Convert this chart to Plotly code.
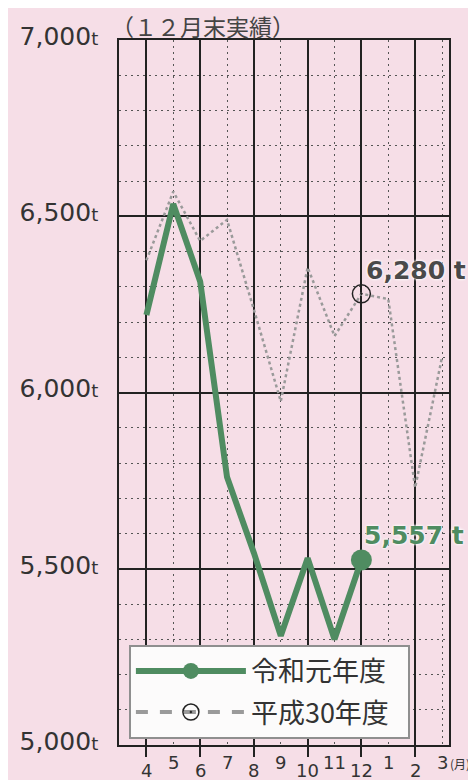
import plotly.graph_objects as go

# ---- data ----
months = ['4', '5', '6', '7', '8', '9', '10', '11', '12', '1', '2', '3']
reiwa1 = [6220, 6535, 6315, 5760, 5545, 5310, 5530, 5300, 5525]          # 令和元年度 (to Dec)
heisei30 = [6375, 6570, 6430, 6490, 6235, 5975, 6355, 6160, 6280, 6265, 5730, 6100]  # 平成30年度
y_ticks = [5000, 5500, 6000, 6500, 7000]
label_reiwa = '令和元年度'
label_heisei = '平成30年度'
title_text = '（１２月末実績）'
note_heisei = '6,280 t'
note_reiwa = '5,557 t'

GREEN = '#4f8c61'
GRAY = '#9a9a9a'
PINK = '#f6dee7'
NUM_FONT = 'DejaVu Sans, Liberation Sans, sans-serif'
JP_FONT = 'Noto Sans CJK JP, sans-serif'

x_idx = list(range(len(months)))
last = len(reiwa1) - 1

fig = go.Figure()

# 平成30年度 line
fig.add_trace(go.Scatter(
    x=x_idx, y=heisei30, mode='lines', showlegend=False,
    line=dict(color=GRAY, width=2.5, dash='dot'), hoverinfo='skip'))
# 平成30年度 marker at Dec
fig.add_trace(go.Scatter(
    x=[x_idx[last]], y=[heisei30[last]], mode='markers', showlegend=False,
    marker=dict(symbol='circle-open-dot', size=18, color='#222',
                line=dict(width=1.5, color='#222'))))
# 令和元年度 line
fig.add_trace(go.Scatter(
    x=x_idx[:len(reiwa1)], y=reiwa1, mode='lines', showlegend=False,
    line=dict(color=GREEN, width=6)))
# 令和元年度 marker at Dec
fig.add_trace(go.Scatter(
    x=[x_idx[last]], y=[reiwa1[last]], mode='markers', showlegend=False,
    marker=dict(symbol='circle', size=21, color=GREEN)))

# legend entries
fig.add_trace(go.Scatter(
    x=[None], y=[None], mode='lines+markers', name=label_reiwa + '\u2002', legendgroup='a',
    line=dict(color=GREEN, width=6), marker=dict(symbol='circle', size=18, color=GREEN)))
fig.add_trace(go.Scatter(
    x=[None], y=[None], mode='lines+markers', name=label_heisei + '\u2002', legendgroup='b',
    line=dict(color=GRAY, width=4, dash='dash'),
    marker=dict(symbol='circle-open-dot', size=16, color='#222', line=dict(width=1.5, color='#222'))))

annotations = []
# title
annotations.append(dict(
    text=title_text, xref='paper', yref='paper', x=0, y=1, xanchor='left', yanchor='bottom',
    xshift=-10, yshift=-5, showarrow=False, font=dict(family=JP_FONT, size=23, color='#444')))
# x labels, staggered
for i, m in enumerate(months):
    annotations.append(dict(
        text=m, x=i, y=0, xref='x', yref='paper', xanchor='center', yanchor='top',
        yshift=(-5 if i % 2 else -13), showarrow=False,
        font=dict(family=NUM_FONT, size=18, color='#333')))
annotations.append(dict(
    text='(月)', x=x_idx[-1], y=0, xref='x', yref='paper', xanchor='left', yanchor='top',
    xshift=6, yshift=-8, showarrow=False, font=dict(family=JP_FONT, size=12, color='#333')))
# value notes
annotations.append(dict(
    text=f'<b>{note_heisei}</b>', x=x_idx[last], y=heisei30[last], xref='x', yref='y',
    xanchor='left', yanchor='middle', xshift=3, yshift=23, showarrow=False,
    font=dict(family=NUM_FONT, size=25, color='#4a4a4a',
              shadow='0px 0px 3px #fff, 0px 0px 3px #fff')))
annotations.append(dict(
    text=f'<b>{note_reiwa}</b>', x=x_idx[last], y=reiwa1[last], xref='x', yref='y',
    xanchor='left', yanchor='middle', xshift=1, yshift=24, showarrow=False,
    font=dict(family=NUM_FONT, size=25, color=GREEN,
              shadow='0px 0px 3px #fff, 0px 0px 3px #fff')))

fig.update_layout(
    width=468, height=772,
    margin=dict(l=105, r=27, t=32, b=35),
    paper_bgcolor=PINK,
    plot_bgcolor=PINK,
    annotations=annotations,
    showlegend=True,
    legend=dict(x=0.03, y=0.142, xanchor='left', yanchor='top',
                bgcolor='#fcfbfb', bordercolor='#8f8f8f', borderwidth=2,
                font=dict(family=JP_FONT, size=27, color='#333'),
                itemwidth=110, tracegroupgap=3),
    xaxis=dict(range=[-1.02, 11.26], tickmode='array', tickvals=x_idx[0::2],
               showticklabels=False, ticks='outside', ticklen=10, tickcolor='#222', tickwidth=1.5,
               showgrid=True, gridcolor='#222', gridwidth=1.5,
               showline=True, mirror=True, linecolor='#222', linewidth=1.5, zeroline=False,
               minor=dict(tickmode='array', tickvals=x_idx[1::2], showgrid=True,
                          gridcolor='#555', gridwidth=1, griddash='2px,4px', ticks='')),
    yaxis=dict(range=[5000, 7000], tickmode='array', tickvals=y_ticks,
               ticktext=[f"{v:,}<span style='font-size:18px'>t</span>" for v in y_ticks],
               tickfont=dict(family=NUM_FONT, size=25, color='#333'),
               ticklabelstandoff=14, ticklabelshift=-4, ticks='',
               showgrid=True, gridcolor='#222', gridwidth=1.5,
               showline=True, mirror=True, linecolor='#222', linewidth=1.5, zeroline=False,
               minor=dict(dtick=100, showgrid=True, gridcolor='#555', gridwidth=1,
                          griddash='2px,4px')),
)

fig.write_html('out.html')
